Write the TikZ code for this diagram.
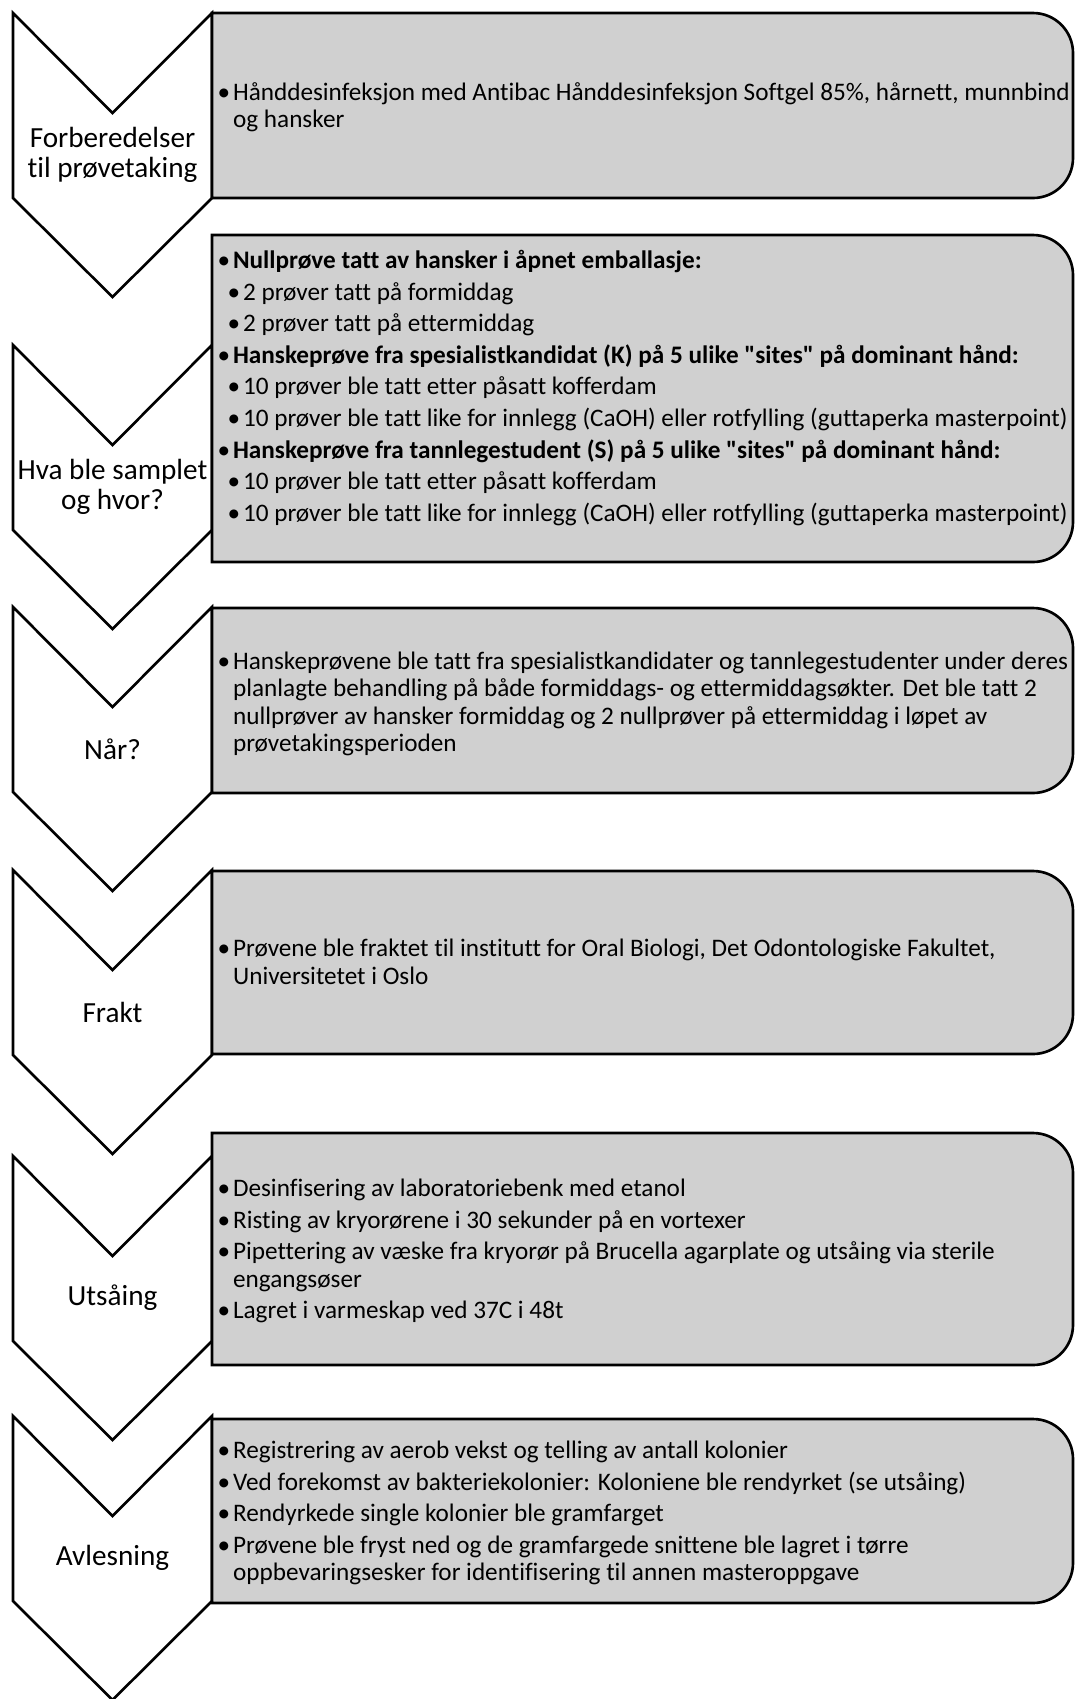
\documentclass[tikz,border=0pt]{standalone}
\usepackage{fontspec}
\setmainfont{Carlito}[Ligatures={TeXOff,CommonOff}]
\usepackage{xcolor}
\definecolor{boxgray}{RGB}{208,208,208}
\tikzset{
	chev/.style={draw=black,fill=white,line width=0.75pt,line join=miter},
	infobox/.style={draw=black,fill=boxgray,line width=0.75pt},
	steplabel/.style={font=\fontsize{8.3}{8.7}\selectfont,align=center,inner sep=0pt},
	infotext/.style={font=\fontsize{7.17}{7.8}\selectfont,align=left,inner sep=0pt,anchor=west}
}
\newcommand\itm{•\kern0.8pt}
\newcommand\cont{\phantom{•}\kern0.8pt}
\newcommand\subi{\hspace*{0.1cm}\itm}
% box with rounded corners on the right side only
\newcommand\sidebox[2]{\draw[infobox] (212,-#2) -- (212,-#1) -- (1033,-#1)
	arc[start angle=90,end angle=0,radius=40] -- (1073,-#2+40)
	arc[start angle=0,end angle=-90,radius=40] -- cycle;}

\begin{document}
\begin{tikzpicture}[x=0.01cm,y=0.01cm]
	\useasboundingbox (0,0) rectangle (1075,-1699);
	% chevrons
	\foreach \t/\name/\txt in {13/c1/{Forberedelser\\til prøvetaking},
		345/c2/{Hva ble samplet\\og hvor?},607/c3/{Når?},870/c4/{Frakt},
		1156/c5/{Utsåing},1416/c6/{Avlesning}}{
		\draw[chev] (13,-\t) -- (112.5,-\t-100) -- (212,-\t) -- (212,-\t-185)
			-- (112.5,-\t-284) -- (13,-\t-185) -- cycle;
		\node[steplabel] (\name) at (112.5,-\t-142) {\txt};
	}
	% boxes
	\sidebox{13}{198}
	\sidebox{235}{562}
	\sidebox{608}{793}
	\sidebox{871}{1054}
	\sidebox{1133}{1365}
	\sidebox{1419}{1603}
	\node[infotext] (b1) at (217,-107) {\itm Hånddesinfeksjon med Antibac Hånddesinfeksjon Softgel 85\%, hårnett, munnbind\\
		\cont og hansker};
	\node[infotext] (b2) at (217,-388) {\itm\textbf{Nullprøve tatt av hansker i åpnet emballasje:}\\[1.2pt]
		\subi 2 prøver tatt på formiddag\\[1.2pt]
		\subi 2 prøver tatt på ettermiddag\\[1.2pt]
		\itm\textbf{Hanskeprøve fra spesialistkandidat (K) på 5 ulike "sites" på dominant hånd:}\\[1.2pt]
		\subi 10 prøver ble tatt etter påsatt kofferdam\\[1.2pt]
		\subi 10 prøver ble tatt like for innlegg (CaOH) eller rotfylling (guttaperka masterpoint)\\[1.2pt]
		\itm\textbf{Hanskeprøve fra tannlegestudent (S) på 5 ulike "sites" på dominant hånd:}\\[1.2pt]
		\subi 10 prøver ble tatt etter påsatt kofferdam\\[1.2pt]
		\subi 10 prøver ble tatt like for innlegg (CaOH) eller rotfylling (guttaperka masterpoint)};
	\node[infotext] (b3) at (217,-704) {\itm Hanskeprøvene ble tatt fra spesialistkandidater og tannlegestudenter under deres\\
		\cont planlagte behandling på både formiddags- og ettermiddagsøkter. Det ble tatt 2\\
		\cont nullprøver av hansker formiddag og 2 nullprøver på ettermiddag i løpet av\\
		\cont prøvetakingsperioden};
	\node[infotext] (b4) at (217,-962) {\itm Prøvene ble fraktet til institutt for Oral Biologi, Det Odontologiske Fakultet,\\
		\cont Universitetet i Oslo};
	\node[infotext] (b5) at (217,-1251) {\itm Desinfisering av laboratoriebenk med etanol\\[1.2pt]
		\itm Risting av kryorørene i 30 sekunder på en vortexer\\[1.2pt]
		\itm Pipettering av væske fra kryorør på Brucella agarplate og utsåing via sterile\\
		\cont engangsøser\\[1.2pt]
		\itm Lagret i varmeskap ved 37C i 48t};
	\node[infotext] (b6) at (217,-1513) {\itm Registrering av aerob vekst og telling av antall kolonier\\[1.2pt]
		\itm Ved forekomst av bakteriekolonier: Koloniene ble rendyrket (se utsåing)\\[1.2pt]
		\itm Rendyrkede single kolonier ble gramfarget\\[1.2pt]
		\itm Prøvene ble fryst ned og de gramfargede snittene ble lagret i tørre\\
		\cont oppbevaringsesker for identifisering til annen masteroppgave};
\end{tikzpicture}
\end{document}
